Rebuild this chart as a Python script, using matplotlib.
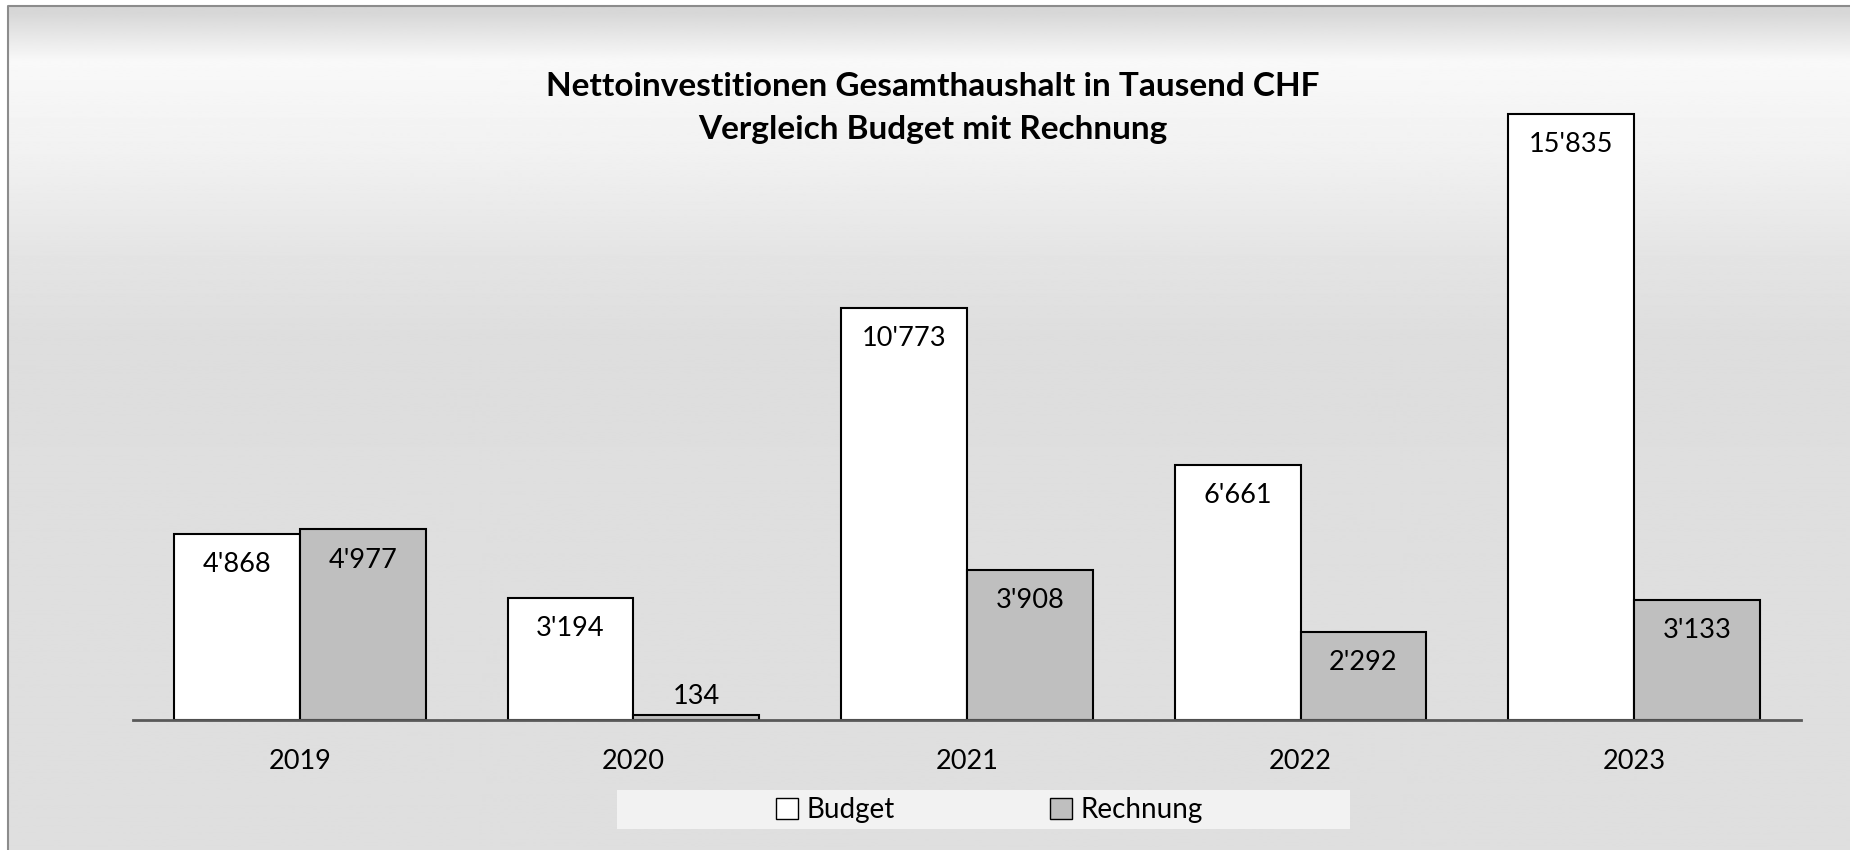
import numpy as np
import matplotlib.pyplot as plt
from matplotlib.patches import Patch, Rectangle

plt.rcParams['font.family'] = ['Lato', 'DejaVu Sans']

# Daten in Tausend CHF
jahre = ['2019', '2020', '2021', '2022', '2023']
budget = [4868, 3194, 10773, 6661, 15835]
rechnung = [4977, 134, 3908, 2292, 3133]


def fmt(v):
    return f"{v:,}".replace(",", "'")


fig = plt.figure(figsize=(18.5, 8.5), dpi=100)

# Hintergrund mit Verlauf (wie Excel-Diagrammfläche)
bg = fig.add_axes([0, 0, 1, 1])
bg.set_xlim(0, 1850)
bg.set_ylim(850, 0)
bg.axis('off')
yy = np.linspace(0, 850, 851)
stops_y = [6, 20, 55, 150, 250, 330, 850]
stops_c = [0.84, 0.88, 0.975, 0.945, 0.895, 0.87, 0.875]
grad = np.interp(yy, stops_y, stops_c)
img = np.repeat(grad[:, None], 2, axis=1)
bg.imshow(img, cmap='gray', vmin=0, vmax=1, aspect='auto',
          extent=[8, 1850, 850, 6], zorder=0)
bg.plot([8, 8, 1850], [850, 6, 6], color='#8c8c8c', lw=1.5, zorder=1)

ax = fig.add_axes([133 / 1850, 1 - 720 / 850, (1801 - 133) / 1850, 689 / 850])
ax.set_facecolor('none')
x = np.arange(len(jahre))
w = 0.377
b1 = ax.bar(x - w / 2, budget, w, color='white', edgecolor='black', linewidth=1.5, label='Budget')
b2 = ax.bar(x + w / 2, rechnung, w, color='#bfbfbf', edgecolor='black', linewidth=1.5, label='Rechnung')
ax.set_xlim(-0.5, 4.5)
ax.set_ylim(0, 18000)

for bars, vals in [(b1, budget), (b2, rechnung)]:
    for rect, v in zip(bars, vals):
        cx = rect.get_x() + rect.get_width() / 2
        if v < 1000:
            ax.annotate(fmt(v), (cx, v), xytext=(0, 13), textcoords='offset points',
                        ha='center', va='center', fontsize=19.5)
        else:
            ax.annotate(fmt(v), (cx, v), xytext=(0, -22), textcoords='offset points',
                        ha='center', va='center', fontsize=19.5)

for s in ['top', 'right', 'left']:
    ax.spines[s].set_visible(False)
ax.spines['bottom'].set_color('#595959')
ax.spines['bottom'].set_linewidth(2)
ax.set_yticks([])
ax.set_xticks(x)
ax.set_xticklabels(jahre, fontsize=19.5)
ax.tick_params(axis='x', length=0, pad=21)

fig.text(0.504, 1 - 87 / 850, 'Nettoinvestitionen Gesamthaushalt in Tausend CHF',
         ha='center', va='center', fontsize=24, fontweight='bold')
fig.text(0.504, 1 - 129 / 850, 'Vergleich Budget mit Rechnung',
         ha='center', va='center', fontsize=24, fontweight='bold')

# Legende
fig.patches.append(Rectangle((617 / 1850, 1 - 829 / 850), (1350 - 617) / 1850, 39 / 850,
                             transform=fig.transFigure, facecolor='#f2f2f2',
                             edgecolor='none', zorder=2))
handles = [Patch(facecolor='white', edgecolor='black', label='Budget'),
           Patch(facecolor='#bfbfbf', edgecolor='black', label='Rechnung')]
fig.legend(handles=handles, loc='center', bbox_to_anchor=(0.5348, 1 - 810 / 850), ncol=2,
           frameon=False, fontsize=20, handlelength=0.8, handleheight=0.8,
           handletextpad=0.3, columnspacing=5.6)

fig.savefig('out.png', dpi=100)
